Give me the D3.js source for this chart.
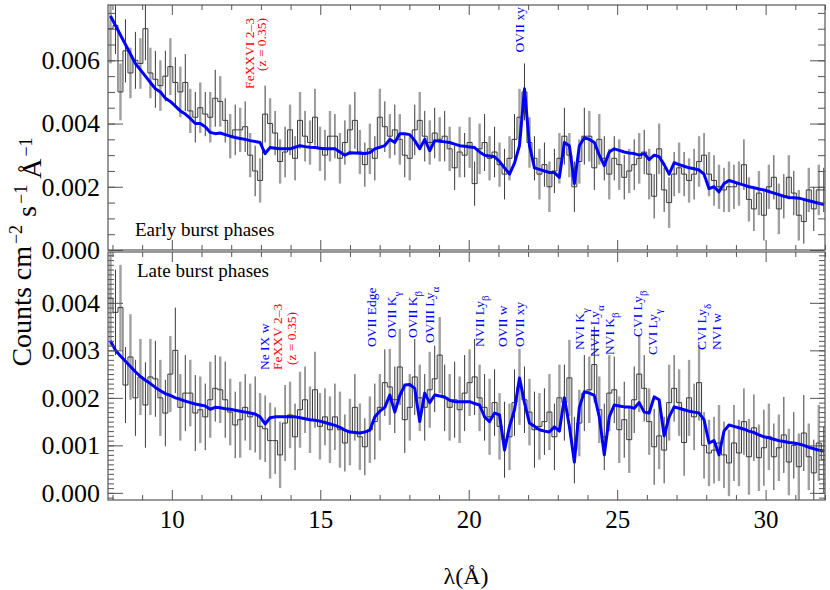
<!DOCTYPE html>
<html><head><meta charset="utf-8">
<script src="https://cdn.jsdelivr.net/npm/d3@7"></script>
<style>
body{margin:0;background:#fff}
text{font-family:"Liberation Serif","Times New Roman",serif}
</style>
</head><body>
<svg id="chart" width="830" height="590"></svg>
<script>
// ---------- DATA ----------
const binStart = 7.85;     // Å, left edge of the first bin
const binWidth = 0.168;    // Å
const xTickValues = [10, 15, 20, 25, 30];
const earlyYTickValues = [0, 0.002, 0.004, 0.006];
const lateYTickValues = [0, 0.001, 0.002, 0.003, 0.004];

const earlyFlux = [
0.0070,0.0071,0.0050,0.0063,0.0056,0.0060,0.0059,0.0070,0.0056,0.0054,
0.0052,0.0055,0.0058,0.0053,0.0050,0.0053,0.0044,0.0042,0.0045,0.0043,
0.0042,0.0048,0.0047,0.0041,0.0036,0.0038,0.0038,0.0039,0.0030,0.0025,
0.0022,0.0043,0.0040,0.0037,0.0028,0.0031,0.0038,0.0029,0.0041,0.0036,
0.0034,0.0042,0.0032,0.0030,0.0036,0.0036,0.0029,0.0034,0.0038,0.0041,
0.0031,0.0027,0.0032,0.0029,0.0042,0.0039,0.0036,0.0038,0.0035,0.0030,
0.0029,0.0038,0.0041,0.0036,0.0034,0.0037,0.0035,0.0036,0.0032,0.0026,
0.0031,0.0030,0.0034,0.0021,0.0032,0.0034,0.0029,0.0031,0.0027,0.0024,
0.0029,0.0035,0.0042,0.0050,0.0034,0.0029,0.0024,0.0027,0.0020,0.0025,
0.0029,0.0036,0.0030,0.0020,0.0028,0.0036,0.0036,0.0026,0.0035,0.0029,
0.0024,0.0029,0.0027,0.0023,0.0025,0.0027,0.0029,0.0031,0.0024,0.0017,
0.0032,0.0019,0.0015,0.0024,0.0026,0.0024,0.0022,0.0024,0.0028,0.0030,
0.0024,0.0022,0.0020,0.0019,0.0020,0.0020,0.0021,0.0027,0.0016,0.0013,
0.0018,0.0011,0.0020,0.0023,0.0013,0.0017,0.0023,0.0018,0.0011,0.0009,
0.0019,0.0013,0.0019,0.0019];
const earlyErr = [
0.0011,0.0009,0.0009,0.0010,0.0008,0.0009,0.0008,0.0010,0.0008,0.0009,
0.0008,0.0008,0.0009,0.0008,0.0008,0.0009,0.0007,0.0008,0.0008,0.0007,
0.0008,0.0009,0.0008,0.0007,0.0007,0.0008,0.0007,0.0008,0.0007,0.0008,
0.0007,0.0009,0.0008,0.0007,0.0007,0.0008,0.0008,0.0007,0.0009,0.0008,
0.0007,0.0009,0.0007,0.0008,0.0008,0.0007,0.0008,0.0007,0.0008,0.0009,
0.0007,0.0007,0.0008,0.0007,0.0009,0.0008,0.0007,0.0008,0.0008,0.0007,
0.0007,0.0008,0.0009,0.0008,0.0007,0.0008,0.0007,0.0008,0.0007,0.0007,
0.0008,0.0007,0.0008,0.0007,0.0008,0.0009,0.0007,0.0008,0.0007,0.0008,
0.0007,0.0008,0.0009,0.0009,0.0008,0.0007,0.0008,0.0007,0.0008,0.0007,
0.0008,0.0009,0.0007,0.0008,0.0007,0.0009,0.0008,0.0007,0.0008,0.0007,
0.0008,0.0007,0.0008,0.0007,0.0007,0.0008,0.0008,0.0007,0.0008,0.0007,
0.0008,0.0007,0.0008,0.0007,0.0008,0.0007,0.0007,0.0008,0.0008,0.0007,
0.0007,0.0008,0.0007,0.0007,0.0008,0.0007,0.0007,0.0008,0.0007,0.0007,
0.0007,0.0008,0.0007,0.0007,0.0008,0.0007,0.0007,0.0007,0.0008,0.0007,
0.0007,0.0007,0.0008,0.0007];
const earlyModel = [
0.0074,0.0071,0.0068,0.0065,0.0062,0.0059,0.0057,0.0055,0.0053,0.0051,
0.0050,0.0048,0.0047,0.00455,0.0044,0.0043,0.00416,0.0040,0.0040,0.0039,
0.00372,0.00368,0.0037,0.00365,0.0036,0.00356,0.00353,0.0035,0.00346,0.00343,
0.0034,0.00305,0.00324,0.00322,0.0032,0.0032,0.0032,0.00325,0.0033,0.00327,
0.00325,0.00324,0.00322,0.0032,0.0032,0.0032,0.0031,0.0030,0.00308,0.00307,
0.00306,0.00305,0.00308,0.0032,0.00325,0.0033,0.0035,0.0034,0.00368,0.00368,
0.00365,0.00346,0.0032,0.0035,0.00314,0.00346,0.00344,0.00342,0.0034,0.00335,
0.0033,0.00328,0.00326,0.00324,0.0031,0.0030,0.00297,0.00295,0.0028,0.0026,
0.0024,0.00275,0.0033,0.0051,0.0033,0.0026,0.00255,0.0025,0.00245,0.00245,
0.0023,0.0034,0.0033,0.0021,0.0033,0.00355,0.0035,0.0034,0.0030,0.00267,
0.0031,0.0032,0.00315,0.0031,0.00307,0.00305,0.0030,0.00305,0.00286,0.0030,
0.00295,0.0027,0.0024,0.00276,0.0027,0.00265,0.0026,0.00257,0.00253,0.0024,
0.00194,0.0020,0.00184,0.0021,0.0022,0.00215,0.0021,0.00205,0.0020,0.00197,
0.00193,0.0019,0.00185,0.0018,0.00175,0.0017,0.00166,0.00165,0.00164,0.0016,
0.00156,0.00152,0.00148,0.00144];

const lateFlux = [
0.0041,0.0038,0.0039,0.00227,0.00286,0.0020,0.00244,0.00185,0.00244,0.0024,
0.0020,0.00168,0.0025,0.0030,0.0018,0.0021,0.0021,0.00168,0.00175,0.0016,
0.00196,0.0022,0.00217,0.00196,0.0017,0.00143,0.00154,0.0018,0.0016,0.00165,
0.0014,0.00135,0.0011,0.0011,0.0008,0.00147,0.00164,0.00118,0.00175,0.00196,
0.00154,0.00217,0.0014,0.0016,0.00133,0.0016,0.00133,0.00105,0.00128,0.0018,
0.00118,0.00097,0.00133,0.0015,0.0018,0.00232,0.00223,0.00196,0.00265,0.00154,
0.0018,0.00244,0.0020,0.0018,0.00217,0.0024,0.0029,0.0020,0.0018,0.00196,
0.00175,0.0021,0.00232,0.00244,0.0020,0.0018,0.0016,0.0019,0.0014,0.00112,
0.00118,0.0019,0.00223,0.00196,0.0017,0.00133,0.0014,0.0015,0.0017,0.00118,
0.0020,0.0019,0.00242,0.0009,0.00147,0.0021,0.00217,0.0027,0.00175,0.00118,
0.0021,0.00217,0.00133,0.00154,0.00112,0.00196,0.0025,0.0022,0.0015,0.00097,
0.0012,0.0009,0.0019,0.0022,0.0019,0.00106,0.0020,0.0016,0.00232,0.0010,
0.00084,0.0009,0.00105,0.0008,0.00063,0.00105,0.00084,0.0015,0.00076,0.00137,
0.00074,0.00095,0.00118,0.00076,0.00095,0.00122,0.00065,0.0010,0.00055,0.00126,
0.00076,0.00042,0.00105,0.0007];
const lateErr = [
0.0010,0.0009,0.0009,0.0008,0.0009,0.0008,0.0008,0.0009,0.0008,0.0008,
0.0008,0.0007,0.0008,0.0009,0.0007,0.0008,0.0007,0.0008,0.0007,0.0007,
0.0008,0.0007,0.0007,0.0008,0.0007,0.0007,0.0008,0.0007,0.0007,0.0008,
0.0007,0.0007,0.0008,0.0007,0.0007,0.0008,0.0007,0.0007,0.0008,0.0007,
0.0007,0.0008,0.0007,0.0006,0.0007,0.0007,0.0008,0.0006,0.0007,0.0007,
0.0007,0.0006,0.0007,0.0008,0.0007,0.0007,0.0008,0.0007,0.0008,0.0007,
0.0007,0.0008,0.0007,0.0007,0.0008,0.0007,0.0008,0.0007,0.0007,0.0008,
0.0007,0.0008,0.0007,0.0008,0.0007,0.0007,0.0008,0.0007,0.0007,0.0008,
0.0007,0.0007,0.0008,0.0007,0.0007,0.0008,0.0007,0.0007,0.0008,0.0007,
0.0007,0.0008,0.0008,0.0007,0.0007,0.0008,0.0007,0.0008,0.0007,0.0007,
0.0008,0.0007,0.0007,0.0008,0.0007,0.0007,0.0008,0.0007,0.0007,0.0008,
0.0007,0.0007,0.0008,0.0007,0.0007,0.0007,0.0008,0.0007,0.0008,0.0007,
0.0007,0.0007,0.0008,0.0007,0.0007,0.0008,0.0007,0.0007,0.0008,0.0007,
0.0007,0.0008,0.0007,0.0007,0.0007,0.0008,0.0007,0.0007,0.0007,0.0008,
0.0007,0.0007,0.0008,0.0007];
const lateModel = [
0.0032,0.0030,0.00288,0.00277,0.00266,0.00255,0.00245,0.00237,0.0023,0.00222,
0.00215,0.00209,0.00205,0.0020,0.00197,0.00193,0.0019,0.00187,0.00185,0.00183,
0.00176,0.0018,0.00179,0.00177,0.00176,0.00174,0.00172,0.0017,0.00168,0.00166,
0.0016,0.00145,0.00158,0.0016,0.0016,0.0016,0.0016,0.0016,0.00158,0.00156,
0.00154,0.00153,0.00151,0.00148,0.00145,0.00142,0.00138,0.00132,0.00128,0.00127,
0.00126,0.00128,0.00132,0.0016,0.00172,0.0018,0.00206,0.0017,0.00205,0.00227,
0.00228,0.0022,0.0015,0.0021,0.0019,0.00206,0.00204,0.00202,0.00195,0.00192,
0.00192,0.00192,0.00192,0.00188,0.00185,0.0016,0.0015,0.00168,0.00164,0.0009,
0.0014,0.00175,0.00242,0.0019,0.00147,0.0014,0.00133,0.0013,0.00128,0.00139,
0.0013,0.0020,0.0014,0.00065,0.0018,0.00213,0.0021,0.00205,0.0016,0.0008,
0.0016,0.00185,0.00183,0.00181,0.00181,0.00178,0.0019,0.0017,0.00168,0.00202,
0.00196,0.0012,0.0016,0.00181,0.00178,0.00175,0.00172,0.0017,0.00168,0.00154,
0.00105,0.0011,0.0008,0.0013,0.00143,0.0014,0.00137,0.00134,0.0013,0.00127,
0.00122,0.00118,0.00116,0.00113,0.0011,0.00108,0.00106,0.00105,0.00103,0.001,
0.00096,0.00093,0.0009,0.00088];

// line identifications: wavelength (Å), text, kind ("fit" = blue, "z" = red)
const earlyLines = [
  {lam: 12.60, text: "FeXXVI 2–3", kind: "z"},
  {lam: 13.03, text: "(z = 0.35)", kind: "z"},
  {lam: 21.72, text: "OVII xy", kind: "fit"}
];
const lateLines = [
  {lam: 13.13, text: "Ne IX w", kind: "fit"},
  {lam: 13.57, text: "FeXXV 2–3", kind: "z"},
  {lam: 14.04, text: "(z = 0.35)", kind: "z"},
  {lam: 16.74, text: "OVII Edge", kind: "fit"},
  {lam: 17.41, text: "OVII K_{γ}", kind: "fit"},
  {lam: 18.12, text: "OVII K_{β}", kind: "fit"},
  {lam: 18.69, text: "OVIII Ly_{α}", kind: "fit"},
  {lam: 20.37, text: "NVII Ly_{β}", kind: "fit"},
  {lam: 21.15, text: "OVII w", kind: "fit"},
  {lam: 21.72, text: "OVII xy", kind: "fit"},
  {lam: 23.74, text: "NVI K_{γ}", kind: "fit"},
  {lam: 24.24, text: "NVII Ly_{α}", kind: "fit"},
  {lam: 24.75, text: "NVI K_{β}", kind: "fit"},
  {lam: 25.69, text: "CVI Ly_{β}", kind: "fit"},
  {lam: 26.19, text: "CVI Ly_{γ}", kind: "fit"},
  {lam: 27.84, text: "CVI Ly_{δ}", kind: "fit"},
  {lam: 28.35, text: "NVI w", kind: "fit"}
];

// ---------- LAYOUT ----------
const L = 108, R = 825;
const earlyTopAnchor = [18, 18, 7];          // top end of rotated labels
const lateBottomAnchor = [370, 370, 365, 347, 338, 338, 343, 347, 347, 347, 350, 357, 355, 337, 355, 350, 350];
const kindColor = {fit: "#0000ff", z: "#ff0000"};

const svg = d3.select("#chart");
const x = d3.scaleLinear().domain([7.85, 32.0]).range([L, R]);

function panel(cfg) {
  const y = d3.scaleLinear().domain(cfg.domain).range([cfg.bottom, cfg.top]);
  const g = svg.append("g");
  const clipId = "clip" + cfg.name;
  svg.append("clipPath").attr("id", clipId).append("rect")
    .attr("x", L).attr("y", cfg.top).attr("width", R - L).attr("height", cfg.bottom - cfg.top);
  const plot = g.append("g").attr("clip-path", `url(#${clipId})`);

  const n = cfg.flux.length;
  const bins = d3.range(n).map(i => ({
    lo: binStart + i * binWidth,
    hi: binStart + (i + 1) * binWidth,
    c: binStart + (i + 0.5) * binWidth,
    v: cfg.flux[i], e: cfg.err[i], m: cfg.model[i], i
  }));

  // error bars
  plot.selectAll("line.err").data(bins).join("line")
    .attr("x1", d => x(d.c)).attr("x2", d => x(d.c))
    .attr("y1", d => y(d.v - d.e)).attr("y2", d => y(d.v + d.e))
    .attr("stroke", d => d.i % 2 ? "#3a3a3a" : "#a0a0a0")
    .attr("stroke-width", d => d.i % 2 ? 1 : 2.4);

  // step histogram
  const pts = bins.map(d => [d.lo, d.v]).concat([[bins[n - 1].hi, bins[n - 1].v]]);
  plot.append("path")
    .attr("d", d3.line().x(d => x(d[0])).y(d => y(d[1])).curve(d3.curveStepAfter)(pts))
    .attr("fill", "none").attr("stroke", "#3a3a3a").attr("stroke-width", 1);

  // model
  plot.append("path")
    .attr("d", d3.line().x(d => x(d.c)).y(d => y(d.m))(bins))
    .attr("fill", "none").attr("stroke", "#0000ff").attr("stroke-width", 3)
    .attr("stroke-linejoin", "round");

  // axes (inward ticks)
  const xMinor = d3.range(8, 33).filter(v => v % 5 !== 0);
  const tickStyle = sel => { sel.select(".domain").remove(); sel.selectAll("line").attr("stroke", "#555"); };
  g.append("g").attr("transform", `translate(0,${cfg.bottom})`)
    .call(d3.axisBottom(x).tickValues(xMinor).tickSize(-5).tickFormat("")).call(tickStyle);
  g.append("g").attr("transform", `translate(0,${cfg.bottom})`)
    .call(d3.axisBottom(x).tickValues(xTickValues).tickSize(-10).tickPadding(10)
      .tickFormat(cfg.xLabels ? d3.format("d") : ""))
    .call(tickStyle)
    .selectAll("text").attr("font-size", 25).attr("fill", "#000");
  g.append("g").attr("transform", `translate(0,${cfg.top})`)
    .call(d3.axisTop(x).tickValues(xMinor).tickSize(-5).tickFormat("")).call(tickStyle);
  g.append("g").attr("transform", `translate(0,${cfg.top})`)
    .call(d3.axisTop(x).tickValues(xTickValues).tickSize(-10).tickFormat("")).call(tickStyle);

  const yMinor = d3.range(cfg.minorFrom, cfg.minorTo + 1).map(k => k * cfg.minorStep)
    .filter(v => v >= cfg.domain[0] && v <= cfg.domain[1]);
  g.append("g").attr("transform", `translate(${L},0)`)
    .call(d3.axisLeft(y).tickValues(yMinor).tickSize(-cfg.minorLen).tickFormat("")).call(tickStyle);
  g.append("g").attr("transform", `translate(${L},0)`)
    .call(d3.axisLeft(y).tickValues(cfg.yTicks).tickSize(-15).tickPadding(8).tickFormat(d3.format(".3f")))
    .call(tickStyle)
    .selectAll("text").attr("font-size", 26).attr("fill", "#000");
  g.append("g").attr("transform", `translate(${R},0)`)
    .call(d3.axisRight(y).tickValues(yMinor).tickSize(-cfg.minorLen).tickFormat("")).call(tickStyle);
  g.append("g").attr("transform", `translate(${R},0)`)
    .call(d3.axisRight(y).tickValues(cfg.yTicks).tickSize(-15).tickFormat("")).call(tickStyle);

  g.append("rect").attr("x", L).attr("y", cfg.top).attr("width", R - L).attr("height", cfg.bottom - cfg.top)
    .attr("fill", "none").attr("stroke", "#555").attr("stroke-width", 1.2);

  // panel title
  g.append("text").attr("x", cfg.titleX).attr("y", cfg.titleY).attr("font-size", 19).text(cfg.title);

  // line labels
  cfg.lines.forEach((ln, k) => {
    const t = g.append("text")
      .attr("transform", `translate(${x(ln.lam) + 4.5},${cfg.anchors[k]}) rotate(-90)`)
      .attr("text-anchor", cfg.anchorMode)
      .attr("font-size", 13.5)
      .attr("fill", kindColor[ln.kind]);
    const parts = ln.text.split(/_\{([^}]*)\}/);
    let shifted = false;
    parts.forEach((p, j) => {
      if (!p) return;
      const sub = j % 2 === 1;
      const ts = t.append("tspan").text(p);
      if (sub) { ts.attr("dy", "0.45em").attr("font-size", 11); shifted = true; }
      else if (shifted) { ts.attr("dy", "-0.45em"); shifted = false; }
    });
  });
}

panel({
  name: "early", top: 5, bottom: 250, domain: [0, 0.00775],
  flux: earlyFlux, err: earlyErr, model: earlyModel,
  yTicks: earlyYTickValues, minorStep: 0.0005, minorFrom: 0, minorTo: 15, minorLen: 7,
  xLabels: false, title: "Early burst phases", titleX: 135, titleY: 236,
  lines: earlyLines, anchors: earlyTopAnchor, anchorMode: "end"
});
panel({
  name: "late", top: 252, bottom: 500, domain: [-0.00015, 0.00507],
  flux: lateFlux, err: lateErr, model: lateModel,
  yTicks: lateYTickValues, minorStep: 0.0001, minorFrom: -1, minorTo: 50, minorLen: 6,
  xLabels: true, title: "Late burst phases", titleX: 137, titleY: 277,
  lines: lateLines, anchors: lateBottomAnchor, anchorMode: "start"
});

// axis titles
const yl = svg.append("text").attr("transform", "translate(31,252) rotate(-90)")
  .attr("text-anchor", "middle").attr("font-size", 28);
yl.append("tspan").text("Counts cm");
yl.append("tspan").attr("dx", 2).attr("dy", "-0.5em").attr("font-size", 18).text("−2");
yl.append("tspan").attr("dx", 8).attr("dy", "0.5em").text("s");
yl.append("tspan").attr("dx", 2).attr("dy", "-0.5em").attr("font-size", 18).text("−1");
yl.append("tspan").attr("dx", 6).attr("dy", "0.5em").text("Å");
yl.append("tspan").attr("dx", 2).attr("dy", "-0.5em").attr("font-size", 18).text("−1");

svg.append("text").attr("x", 466).attr("y", 584).attr("text-anchor", "middle")
  .attr("font-size", 24).text("λ(Å)");
</script>
</body></html>
